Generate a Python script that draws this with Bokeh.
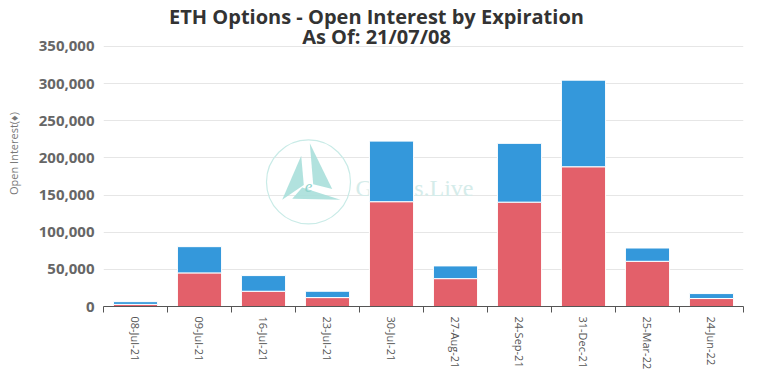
from bokeh.plotting import figure
from bokeh.models import Range1d, FixedTicker, NumeralTickFormatter, ColumnDataSource
from bokeh.core.properties import value
from bokeh.embed import file_html
from bokeh.resources import INLINE

# ---------------- data ----------------
expiries = ["08-Jul-21", "09-Jul-21", "16-Jul-21", "23-Jul-21", "30-Jul-21",
            "27-Aug-21", "24-Sep-21", "31-Dec-21", "25-Mar-22", "24-Jun-22"]
calls = [2800, 45200, 20500, 12000, 141000, 37500, 140400, 188000, 60800, 10700]
puts = [3700, 35300, 21100, 8500, 81500, 17100, 79100, 116500, 17900, 6700]
y_ticks = [0, 50000, 100000, 150000, 200000, 250000, 300000, 350000]

title_line1 = "ETH Options - Open Interest by Expiration"
title_line2 = "As Of: 21/07/08"
y_label = "Open Interest(\u2666)"

RED = "#e3606a"
BLUE = "#3498db"

# ---------------- layout (canvas px) ----------------
W, H = 763, 372
FL, FR = 103, 743          # frame left / right
PX_ZERO, PX_TOP = 307, 46  # pixel rows of value 0 and of the top tick
n = len(expiries)
y_end = y_ticks[-1] * PX_ZERO / (PX_ZERO - PX_TOP)

xpos = [i + 0.5 for i in range(n)]
source = ColumnDataSource(dict(x=xpos, calls=calls, puts=puts))

p = figure(width=W, height=H, output_backend="svg", toolbar_location=None,
           x_range=Range1d(0, n), y_range=Range1d(0, y_end),
           min_border_left=FL, min_border_top=0,
           min_border_right=W - FR, min_border_bottom=H - PX_ZERO)
p.outline_line_color = None
p.background_fill_color = "white"
p.border_fill_color = "white"


def px2d(px, py):
    """canvas pixel -> data coordinates (for decorations only)"""
    return ((px - FL) / (FR - FL) * n, (PX_ZERO - py) / PX_ZERO * y_end)


# ---------------- watermark (behind bars) ----------------
wm_teal = "#a9dfda"
c = px2d(308, 182)
p.scatter([c[0]], [c[1]], size=84, marker="circle", fill_color=None,
          line_color="#c9ebe7", line_width=1.2)
tris = [[(281.7, 200), (300.7, 155.7), (303.3, 185)],
        [(309.3, 143.3), (331.7, 189), (312.7, 184.3)],
        [(291.7, 199), (340, 200), (301.7, 187.7)]]
xs, ys = [], []
for t in tris:
    pts = [px2d(a, b) for a, b in t]
    xs.append([q[0] for q in pts])
    ys.append([q[1] for q in pts])
p.patches(xs, ys, fill_color=wm_teal, line_color=None, fill_alpha=0.9)
e = px2d(308, 187)
p.text([e[0]], [e[1]], text=["e"], text_font=value("Liberation Serif"),
       text_font_style="italic", text_font_size="17px", text_color="#8fd3cc",
       text_align="center", text_baseline="alphabetic")
g = px2d(355, 188)
p.text([g[0]], [g[1]], text=["Greeks.Live"], text_font=value("Liberation Serif"),
       text_font_size="24px", text_color="#d5ecea", text_align="left",
       text_baseline="alphabetic")

# ---------------- bars ----------------
p.vbar_stack(["calls", "puts"], x="x", width=0.69, source=source,
             color=[RED, BLUE], line_color="white", line_width=1)

# ---------------- title (inside the extended frame area) ----------------
for txt, base in [(title_line1, 16), (title_line2, 36)]:
    tx, ty = px2d(376, base)
    p.text([tx], [ty], text=[txt], text_font=value("Open Sans"),
           text_font_style="bold", text_font_size="20px", text_color="#333333",
           text_align="center", text_baseline="alphabetic")

# ---------------- axes ----------------
p.xgrid.grid_line_color = None
p.ygrid.grid_line_color = "#e6e6e6"
p.ygrid.ticker = FixedTicker(ticks=y_ticks)

ya = p.yaxis[0]
ya.ticker = FixedTicker(ticks=y_ticks)
ya.formatter = NumeralTickFormatter(format="0,0")
ya.axis_line_color = None
ya.major_tick_line_color = None
ya.minor_tick_line_color = None
ya.major_tick_out = 0
ya.major_tick_in = 0
ya.minor_tick_out = 0
ya.minor_tick_in = 0
ya.major_label_standoff = 9
ya.major_label_text_font = "Open Sans"
ya.major_label_text_font_style = "bold"
ya.major_label_text_font_size = "15px"
ya.major_label_text_color = "#666666"
ya.axis_label = y_label
ya.axis_label_text_font = "Open Sans"
ya.axis_label_text_font_style = "normal"
ya.axis_label_text_font_size = "11px"
ya.axis_label_text_color = "#777777"
ya.axis_label_standoff = 15

xa = p.xaxis[0]
xa.ticker = FixedTicker(ticks=xpos, minor_ticks=list(range(n + 1)))
xa.major_label_overrides = {xv: lab for xv, lab in zip(xpos, expiries)}
xa.major_label_orientation = "vertical"
xa.major_label_text_font = "Open Sans"
xa.major_label_text_font_size = "11px"
xa.major_label_text_color = "#555555"
xa.major_label_standoff = 4
xa.major_tick_line_color = None
xa.major_tick_out = 0
xa.major_tick_in = 0
xa.minor_tick_out = 6
xa.minor_tick_in = 0
xa.minor_tick_line_color = "#555555"
xa.axis_line_color = "#555555"
xa.axis_line_width = 1

open("out.html", "w").write(file_html(p, INLINE))
